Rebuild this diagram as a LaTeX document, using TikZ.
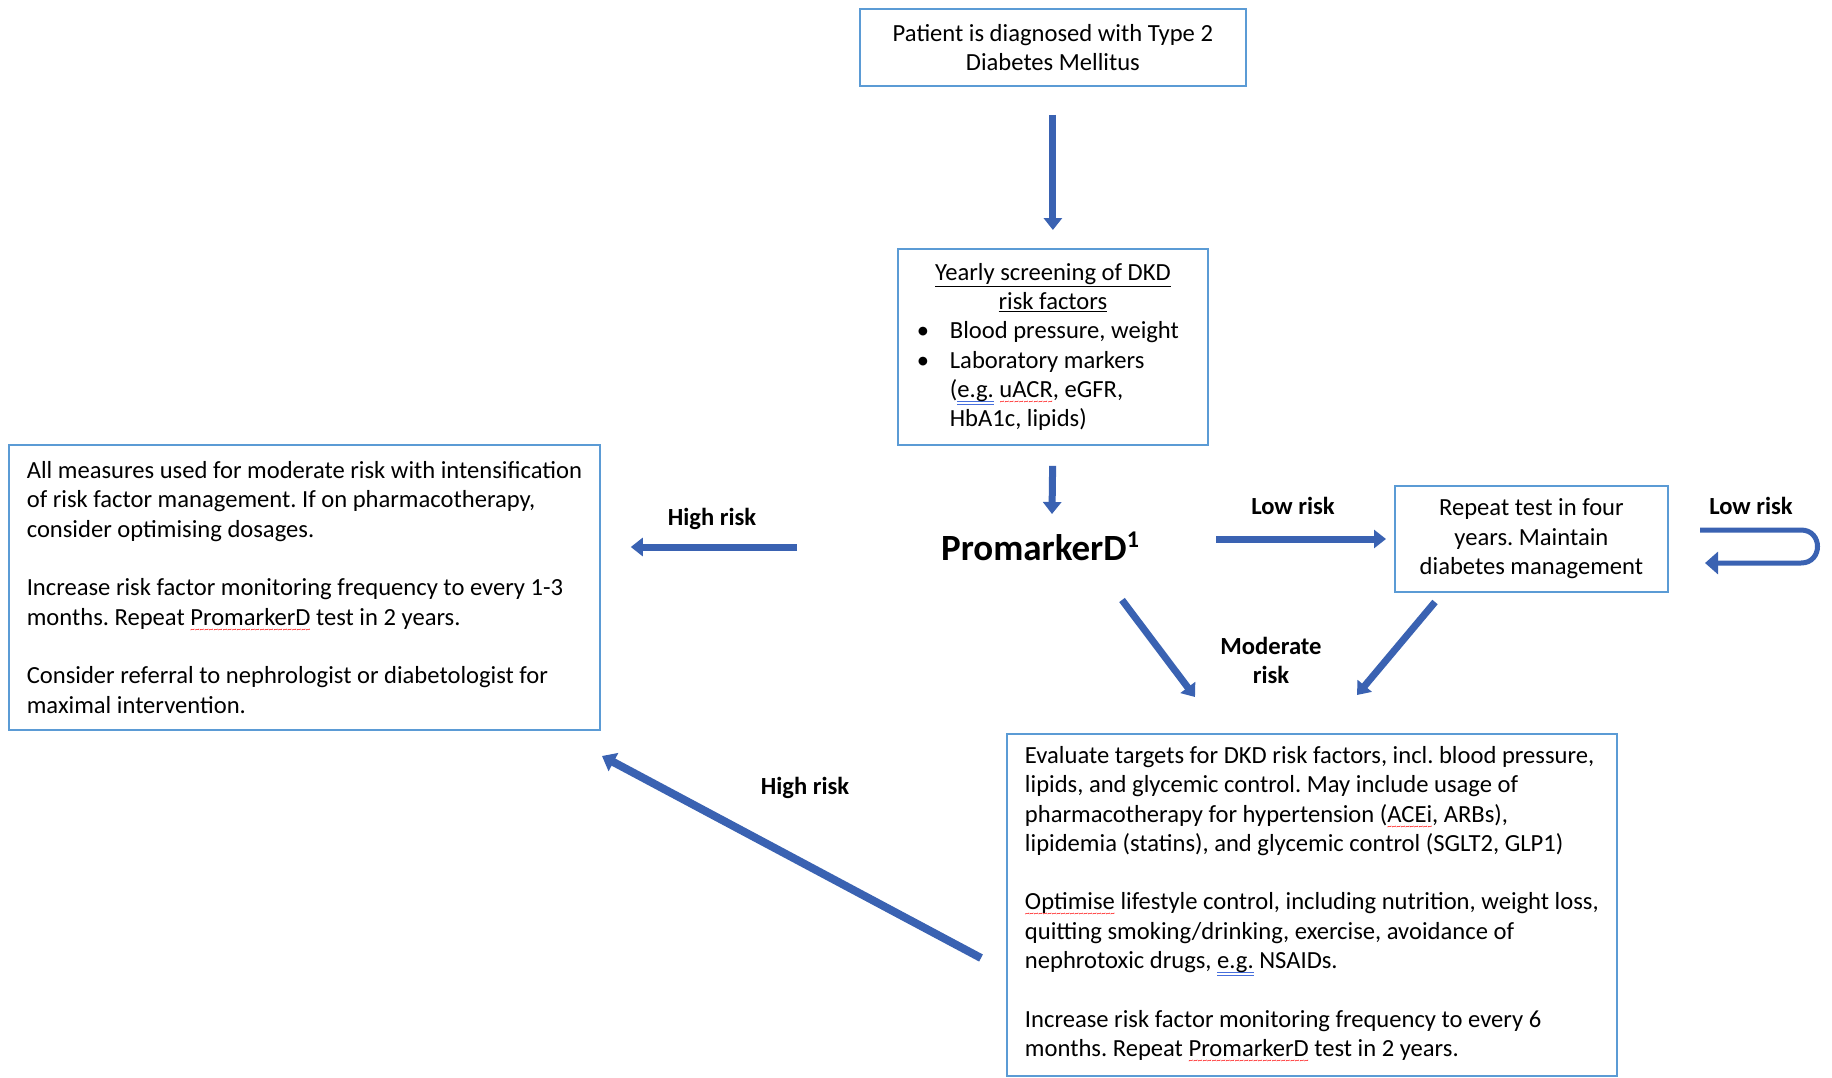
\documentclass[tikz,border=0pt]{standalone}
\usepackage{fontspec}
\setmainfont{Carlito}
\usetikzlibrary{arrows.meta}
\definecolor{boxblue}{RGB}{91,155,213}
\definecolor{arrblue}{RGB}{58,98,178}
\definecolor{gramblue}{RGB}{70,110,220}
\frenchspacing
\newsavebox\markbox
\newcommand\spellmark[1]{\sbox\markbox{#1}\leavevmode\rlap{\raisebox{-7pt}{\hbox to \wd\markbox{\color{red}\fontsize{9}{9}\selectfont\xleaders\hbox{\textasciitilde}\hfil}}}\usebox\markbox}
\newcommand\grammark[1]{\sbox\markbox{#1}\leavevmode\rlap{\color{gramblue}\raisebox{-4.5pt}{\rule{\wd\markbox}{0.8pt}}}\rlap{\color{gramblue}\raisebox{-7pt}{\rule{\wd\markbox}{0.8pt}}}\usebox\markbox}
\newcommand\bul[1]{\makebox[272pt][l]{\makebox[33pt][l]{\textbullet}#1}}
\newcommand\cont[1]{\makebox[272pt][l]{\hspace*{33pt}#1}}
\begin{document}
\begin{tikzpicture}[x=1pt,y=-1pt,
  box/.style={draw=boxblue, line width=1.8pt, anchor=north west, inner sep=0pt,
    font=\fontsize{24.6}{29.3}\selectfont},
  lbl/.style={font=\bfseries\fontsize{24.6}{29}\selectfont, align=center, inner sep=0pt},
  blk/.style={draw=arrblue, line width=7pt, -{Triangle[width=18pt,length=12pt]}},
  thinblk/.style={draw=arrblue, line width=5pt, -{Triangle[width=22pt,length=13pt]}},
]
\path[use as bounding box, fill=white] (0,0) rectangle (1832,1077);

% boxes
\node[box, align=center, minimum width=386pt, minimum height=77pt] (top) at (859,8)
  {Patient is diagnosed with Type 2\\Diabetes Mellitus};
\node[box, align=center, minimum width=310pt, minimum height=196pt] (screen) at (897,248)
  {\underline{Yearly screening of DKD}\\
   \underline{risk factors}\\
   \bul{Blood pressure, weight}\\
   \bul{Laboratory markers}\\
   \cont{(\grammark{e.g.} \spellmark{uACR}, eGFR,}\\
   \cont{HbA1c, lipids)}};
\node[box, align=left, minimum width=591pt, minimum height=285pt] (left) at (8,444)
  {All measures used for moderate risk with intensification\\
   of risk factor management. If on pharmacotherapy,\\
   consider optimising dosages.\\[29.3pt]
   Increase risk factor monitoring frequency to every 1-3\\
   months. Repeat \spellmark{PromarkerD} test in 2 years.\\[29.3pt]
   Consider referral to nephrologist or diabetologist for\\
   maximal intervention.};
\node[box, align=center, minimum width=273pt, minimum height=106pt] (rep) at (1394,485)
  {Repeat test in four\\years. Maintain\\diabetes management};
\node[box, align=left, minimum width=610pt, minimum height=342pt] (bot) at (1006,733)
  {Evaluate targets for DKD risk factors, incl. blood pressure,\\
   lipids, and glycemic control. May include usage of\\
   pharmacotherapy for hypertension (\spellmark{ACEi}, ARBs),\\
   lipidemia (statins), and glycemic control (SGLT2, GLP1)\\[29.3pt]
   \spellmark{Optimise} lifestyle control, including nutrition, weight loss,\\
   quitting smoking/drinking, exercise, avoidance of\\
   nephrotoxic drugs, \grammark{e.g.} NSAIDs.\\[29.3pt]
   Increase risk factor monitoring frequency to every 6\\
   months. Repeat \spellmark{PromarkerD} test in 2 years.};

% central label
\node[font=\bfseries\fontsize{37}{42}\selectfont, inner sep=0pt] (prom) at (1040,546)
  {PromarkerD\raisebox{13pt}{\fontsize{24}{24}\selectfont 1}};

% arrow labels
\node[lbl] (lhr1) at (712,519) {High risk};
\node[lbl] (llr1) at (1293,506) {Low risk};
\node[lbl] (llr2) at (1751,506) {Low risk};
\node[lbl] (lmod) at (1271,660) {Moderate\\risk};
\node[lbl] (lhr2) at (805,788) {High risk};

% arrow end points
\coordinate (p2) at (1052,514);
\coordinate (hrA) at (797,547);
\coordinate (lrA) at (1216,539);
\coordinate (mA) at (1122,600);
\coordinate (mB) at (1195,697);
\coordinate (rA) at (1435,602);
\coordinate (rB) at (1357,695);
\coordinate (hB) at (981,958);
\coordinate (hT) at (602,756);
\coordinate (uA) at (1700,530);
\coordinate (uB) at (1801,530);
\coordinate (uC) at (1801,563);
\coordinate (uD) at (1705,563);

% connectors
\draw[blk, shorten <=28pt, shorten >=18pt] (top.south) -- (screen.north);
\draw[blk, shorten <=20pt] (screen.south) -- (p2);
\draw[blk, shorten >=30pt] (hrA) -- (left.east |- hrA);
\draw[blk, shorten >=8pt] (lrA) -- (rep.west |- lrA);
\draw[blk] (mA) -- (mB);
\draw[blk] (rA) -- (rB);
\draw[blk, line width=8pt, -{Triangle[width=20pt,length=13pt]}] (hB) -- (hT);
\draw[thinblk] (uA) -- (uB) .. controls (1823,530) and (1823,563) .. (uC) -- (uD);
\end{tikzpicture}
\end{document}
